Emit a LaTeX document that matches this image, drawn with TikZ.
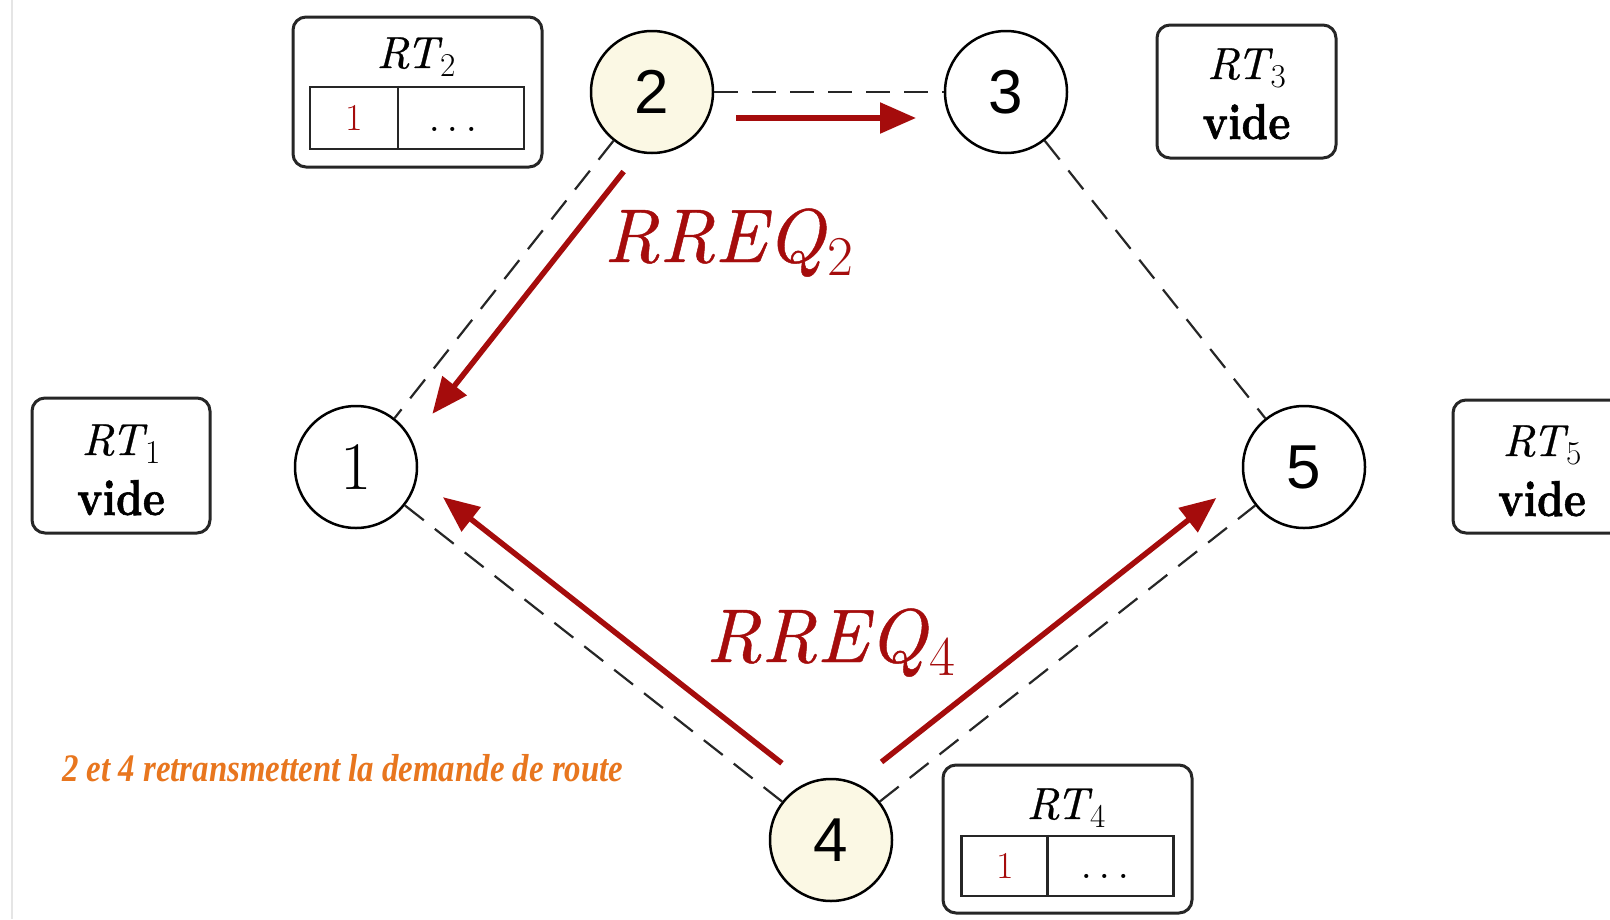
\documentclass[tikz,border=0pt]{standalone}
\usepackage{fontspec}
\usepackage{graphicx}
\newfontfamily\digitfont{Liberation Sans}
\newfontfamily\notefont{Liberation Serif}
\newfontfamily\heavyfont{lmroman10-bold.otf}[FakeBold=1.2]
\newfontfamily\italfont{lmroman10-italic.otf}[FakeBold=0.6]
\usetikzlibrary{arrows.meta,calc}

\definecolor{reqred}{RGB}{165,12,12}
\definecolor{relayfill}{RGB}{251,248,228}
\definecolor{noteorange}{RGB}{232,118,30}

% italic name with a lowered, smaller index
\newcommand\idx[2]{{\italfont #1}\kern0.04em\raisebox{-0.18em}{\scalebox{0.74}{#2}}}
\newcommand\videtext{\scalebox{1}[1.2]{\heavyfont vide}}
\newcommand\celldots{{\fontsize{50}{54}\selectfont .\kern0.12em.\kern0.12em.}}

\tikzset{
  station/.style={circle, draw=black, line width=2.5pt, minimum size=122pt,
    inner sep=0pt, fill=white, font=\digitfont\fontsize{62}{70}\selectfont},
  relay/.style={station, fill=relayfill},
  link/.style={draw=black!85, line width=2.2pt, dash pattern=on 24pt off 14pt},
  reqarrow/.style={draw=reqred, line width=5.5pt, -{Triangle[length=36pt,width=30pt]}},
  rtbox/.style={draw=black!85, line width=3pt, rounded corners=13pt, inner sep=0pt},
  rtcell/.style={draw=black!85, line width=2.2pt, inner sep=0pt},
  rttitle/.style={inner sep=0pt, font=\fontsize{45}{50}\selectfont},
  celltext/.style={inner sep=0pt, font=\fontsize{38}{42}\selectfont},
  reqlabel/.style={inner sep=0pt, text=reqred, font=\fontsize{76}{84}\selectfont},
}

\begin{document}
\begin{tikzpicture}[x=1pt, y=-1pt]
  \clip (0,0) rectangle (1610,919);
  \fill[white] (0,0) rectangle (1610,919);
  % faint page edge on the left
  \draw[black!10, line width=2pt] (12,0) -- (12,919);

  % stations
  \node[relay]   (n2) at (652,92)   {2};
  \node[station] (n3) at (1006,92)  {3};
  \node[station, font=\fontsize{68}{72}\selectfont] (n1) at (356,467) {1};
  \node[station] (n5) at (1304,467) {5};
  \node[relay]   (n4) at (831,840)  {4};

  % radio links
  \draw[link] (n2) -- (n3);
  \draw[link] (n2) -- (n1);
  \draw[link] (n3) -- (n5);
  \draw[link] (n1) -- (n4);
  \draw[link] (n4) -- (n5);

  % route request broadcasts
  \draw[reqarrow] ($ ($(n2)!84pt!(n3)$)!26pt!-90:(n3) $) -- ($ ($(n3)!90pt!(n2)$)!26pt!90:(n2) $);
  \draw[reqarrow] ($ ($(n2)!80pt!(n1)$)!27pt!90:(n1) $) -- ($ ($(n1)!89pt!(n2)$)!27pt!-90:(n2) $);
  \draw[reqarrow] ($ ($(n4)!86pt!(n1)$)!30pt!-90:(n1) $) -- ($ ($(n1)!87pt!(n4)$)!30pt!90:(n4) $);
  \draw[reqarrow] ($ ($(n4)!88pt!(n5)$)!30pt!90:(n5) $) -- ($ ($(n5)!88pt!(n4)$)!30pt!-90:(n4) $);

  \node[reqlabel, anchor=base west] (req2) at (604,262) {\idx{RREQ}{2}};
  \node[reqlabel, anchor=base west] (req4) at (706,662) {\idx{RREQ}{4}};

  % routing table of 2
  \node[rtbox, minimum width=249pt, minimum height=150pt] (rt2) at (417.5,92) {};
  \node[rttitle, anchor=base] (rt2t) at (416,68) {\idx{RT}{2}};
  \node[rtcell, minimum width=214pt, minimum height=62pt] (rt2tab) at (417,118) {};
  \draw[rtcell] ($(rt2tab.north west)+(89,0)$) -- ($(rt2tab.south west)+(89,0)$);
  \node[celltext, text=reqred] (rt2a) at (354.5,118) {1};
  \node[celltext, anchor=base] (rt2b) at (453,131) {\celldots};

  % routing table of 4
  \node[rtbox, minimum width=249pt, minimum height=148pt] (rt4) at (1067.5,839) {};
  \node[rttitle, anchor=base] (rt4t) at (1066,819) {\idx{RT}{4}};
  \node[rtcell, minimum width=212pt, minimum height=60pt] (rt4tab) at (1067.5,866) {};
  \draw[rtcell] ($(rt4tab.north west)+(87,0)$) -- ($(rt4tab.south west)+(87,0)$);
  \node[celltext, text=reqred] (rt4a) at (1005,866) {1};
  \node[celltext, anchor=base] (rt4b) at (1105,878) {\celldots};

  % empty routing tables
  \node[rtbox, minimum width=178pt, minimum height=135pt] (rt1) at (121,465.5) {};
  \node[rttitle, anchor=base] (rt1t) at (121,455) {\idx{RT}{1}};
  \node[rttitle, anchor=base, font=\fontsize{42}{48}\selectfont] (rt1v) at (121,515) {\videtext};

  \node[rtbox, minimum width=179pt, minimum height=133pt] (rt3) at (1246.5,91.5) {};
  \node[rttitle, anchor=base] (rt3t) at (1246.5,79) {\idx{RT}{3}};
  \node[rttitle, anchor=base, font=\fontsize{42}{48}\selectfont] (rt3v) at (1246.5,139) {\videtext};

  \node[rtbox, minimum width=178pt, minimum height=133pt] (rt5) at (1542,466.5) {};
  \node[rttitle, anchor=base] (rt5t) at (1542,456) {\idx{RT}{5}};
  \node[rttitle, anchor=base, font=\fontsize{42}{48}\selectfont] (rt5v) at (1542,516) {\videtext};

  % caption
  \node[anchor=west, inner sep=0pt, text=noteorange] (note) at (62,768)
    {\resizebox{561pt}{\height}{\notefont\fontsize{39}{42}\selectfont\bfseries\itshape 2 et 4 retransmettent la demande de route}};
\end{tikzpicture}
\end{document}
